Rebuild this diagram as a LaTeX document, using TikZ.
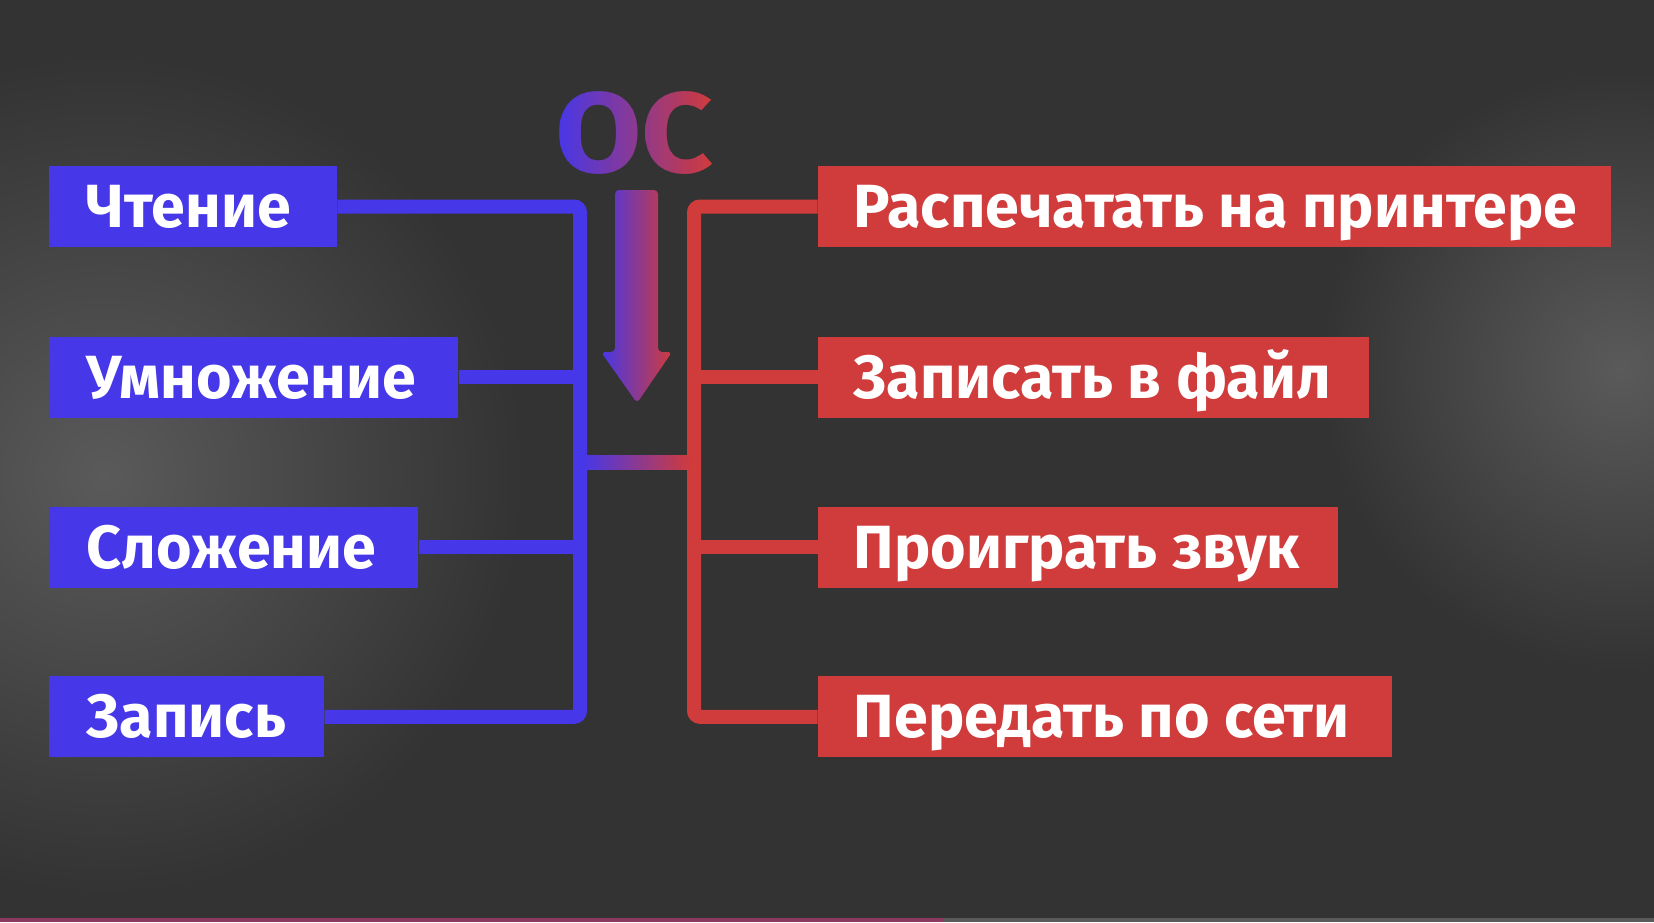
\documentclass[tikz,border=0pt]{standalone}
\usepackage{fontspec}
\setmainfont{Fira Sans}
\definecolor{bg}{HTML}{333333}
\definecolor{bblue}{HTML}{4637E8}
\definecolor{rred}{HTML}{D03B3B}
\definecolor{glow}{HTML}{5A5A5A}
\definecolor{barpink}{HTML}{8A3A5E}
\definecolor{bargray}{HTML}{5A5A5A}
\newcommand{\lbox}[2]{\makebox[#1][l]{#2}}
\tikzset{
  lbl/.style={font=\fontsize{30.5}{34}\selectfont\bfseries, text=white},
  bluebox/.style={lbl, fill=bblue, anchor=north west, text height=30.8pt, text depth=9.7pt, inner ysep=0pt, inner xsep=19pt},
  redbox/.style={lbl, fill=rred, anchor=north west, text height=30.8pt, text depth=9.7pt, inner ysep=0pt, inner xsep=18pt},
  bline/.style={draw=bblue, line width=7pt, rounded corners=3pt},
  rline/.style={draw=rred, line width=7pt, rounded corners=3pt},
  octitle/.style={font=\fontsize{57}{60}\selectfont\bfseries, inner sep=0pt},
}
\begin{document}
\begin{tikzpicture}[x=0.5pt, y=-0.5pt]
\useasboundingbox (0,0) rectangle (1654,922);
\clip (0,0) rectangle (1654,922);
\fill[bg] (0,0) rectangle (1654,922);
\shade[inner color=glow, outer color=bg] (105,475) circle (420);
\shade[inner color=glow, outer color=bg] (1620,370) circle (300);
\fill[barpink] (0,918) rectangle (943,922);
\fill[bargray] (943,918) rectangle (1654,922);

% left boxes
\node[bluebox] (l1) at (48.5,165.6) {\lbox{106pt}{Чтение}};
\node[bluebox] (l2) at (48.5,336.2) {\lbox{166.6pt}{Умножение}};
\node[bluebox] (l3) at (48.5,506.1) {\lbox{146.6pt}{Сложение}};
\node[bluebox] (l4) at (48.5,675.9) {\lbox{99.7pt}{Запись}};
% right boxes
\node[redbox] (r1) at (817.5,165.6) {\lbox{360.6pt}{Распечатать на принтере}};
\node[redbox] (r2) at (817.5,336.2) {\lbox{239.3pt}{Записать в файл}};
\node[redbox] (r3) at (817.5,506.1) {\lbox{224pt}{Проиграть звук}};
\node[redbox] (r4) at (817.5,675.9) {\lbox{250.9pt}{Передать по сети}};

\coordinate (bx) at (580,0);
\coordinate (rx) at (694,0);
% blue tree
\draw[bline] (l1.east) -- (l1.east -| bx) -- (l4.east -| bx) -- (l4.east);
\draw[bline] (l2.east) -- (l2.east -| bx);
\draw[bline] (l3.east) -- (l3.east -| bx);
% red tree
\draw[rline] (r1.west) -- (r1.west -| rx) -- (r4.west -| rx) -- (r4.west);
\draw[rline] (r2.west) -- (r2.west -| rx);
\draw[rline] (r3.west) -- (r3.west -| rx);
% middle link
\shade[left color=bblue, right color=rred] (583,455) rectangle (691,469);

% arrow
\shade[left color=bblue, right color=rred, rounded corners=2pt]
  (615,190) -- (658,190) -- (658,352) -- (672,352) -- (637,403) -- (601,352) -- (615,352) -- cycle;

% OC title with horizontal gradient (vertical strips)
\foreach \i in {0,...,24} {
  \pgfmathsetmacro{\pct}{100-\i*100/24}
  \begin{scope}
    \clip (554+\i*6.5,80) rectangle (554+\i*6.5+6.6,190);
    \node[octitle, text=bblue!\pct!rred] (oc\i) at (634.5,133) {\scalebox{1.1}[1]{ОС}};
  \end{scope}
}
\end{tikzpicture}
\end{document}
